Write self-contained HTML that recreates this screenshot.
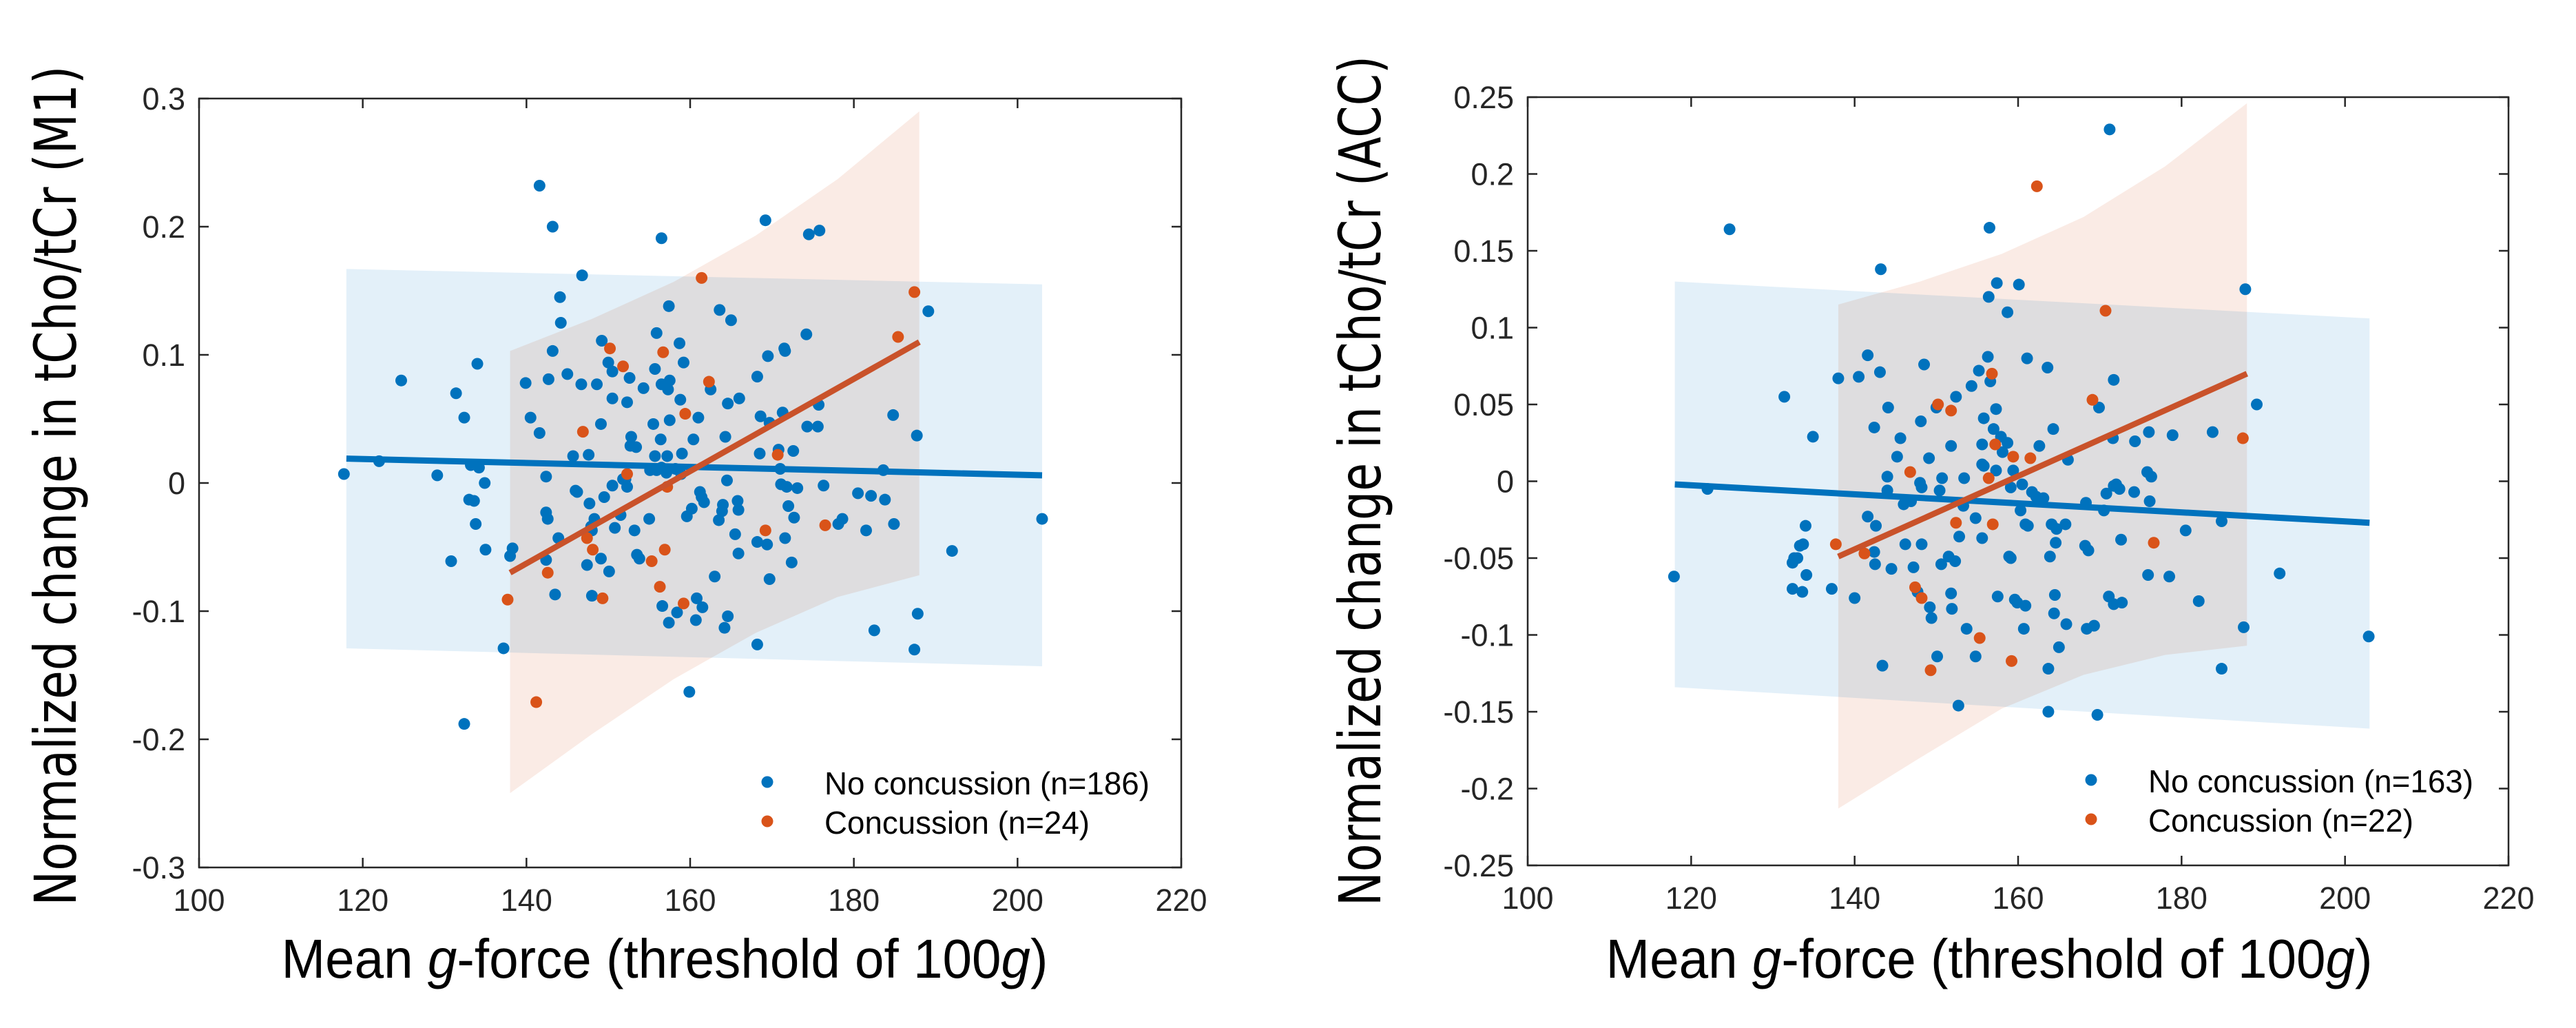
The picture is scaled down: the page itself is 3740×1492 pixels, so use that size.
<!DOCTYPE html>
<html><head><meta charset="utf-8"><style>
html,body{margin:0;padding:0;background:#fff;width:3740px;height:1492px;overflow:hidden}
svg{display:block}
</style></head><body>
<svg id="fig" xmlns="http://www.w3.org/2000/svg" width="3740" height="1492" viewBox="0 0 3740 1492"></svg>
<script>
// ===== Left panel data (M1) =====
const m1BlueX=[117.7,122,124.7,129.1,131.4,132.4,134,133.2,134.2,133,133.6,133.8,134.9,130.8,135,132.4,137.2,138,138.3,139.9,140.5,141.6,141.6,143.2,143.2,142.7,144.1,144.2,142.4,142.4,142.6,142.4,143.5,143.9,145,145.7,146,146.2,146.8,146.7,147.6,147.7,148,147.9,148.3,147.4,148,148.6,149.1,149.2,149.5,150.1,149.1,150,150.5,150.5,150.5,150.8,151.5,151.8,152.1,152.3,152.6,152.8,152.7,153.4,153.2,153.5,153.8,152.3,154.3,155.1,155,155.5,155.7,155.9,155.7,155.9,156.4,156.5,156.5,156.5,156.6,157.1,157.3,157.4,157.5,157.5,157.2,157.4,158.2,158.4,158.8,158.7,159,158.9,159.2,159.6,160.2,160.4,161,160.8,160.7,159.9,161.2,161.4,161.5,161.7,162.5,163,163.5,163.6,164,163.9,164.3,164.5,164.2,164.6,164.6,165,165.5,165.8,165.9,166,165.9,168.2,168.2,168.5,168.6,168.2,169.2,169.5,169.4,169.7,169.7,170.8,171,171.1,171.3,171.5,171.6,171.8,172,171.6,172.4,172.6,172.7,173.1,174.2,174.3,174.5,175.8,175.7,175.6,176.3,178.1,178.6,180.5,181.5,182.1,182.5,183.6,183.8,184.8,184.9,187.4,187.7,187.8,189.1,192,203];
const m1BlueY=[0.007,0.017,0.08,0.006,0.07,0.051,0.093,0.014,0.012,-0.013,-0.014,-0.032,0,-0.061,-0.052,-0.188,-0.129,-0.057,-0.051,0.078,0.051,0.232,0.039,0.2,0.103,0.081,0.145,0.125,0.005,-0.023,-0.028,-0.06,-0.087,-0.043,0.085,0.021,-0.006,-0.007,0.162,0.077,0.022,-0.016,-0.037,-0.034,-0.028,-0.064,-0.088,0.077,0.046,0.111,-0.011,-0.069,-0.059,0.094,0.087,0.066,-0.002,-0.035,-0.025,0.003,0.003,0.063,0.082,0.036,0.029,0.028,-0.037,-0.056,-0.059,-0.003,0.074,0.01,-0.028,0.046,0.089,0.117,0.021,0.01,0.034,0.077,0.191,0.012,-0.096,0.008,0.073,0.138,0.08,0.049,0.021,-0.109,0.011,-0.101,0.065,0.109,0.023,0.007,0.094,-0.026,-0.02,0.034,0.051,-0.09,-0.107,-0.163,-0.007,-0.011,-0.097,-0.015,0.073,-0.073,-0.029,0.135,-0.017,-0.022,0.036,0.002,-0.113,-0.104,0.062,0.127,-0.04,-0.014,-0.021,0.066,-0.055,-0.046,0.083,0.023,0.052,-0.126,0.205,0.099,-0.048,-0.075,0.047,0.026,0.011,-0.001,0.055,0.105,0.103,-0.003,-0.018,-0.043,-0.062,0.025,-0.027,-0.004,0.116,0.044,0.194,0.197,0.061,0.044,-0.002,-0.032,-0.028,-0.008,-0.037,-0.01,-0.115,0.01,-0.013,0.053,-0.032,-0.13,0.037,-0.102,0.134,-0.053,-0.028];
const m1OrangeX=[137.7,141.2,142.6,146.9,147.4,148.1,149.3,150.2,151.8,152.3,155.3,156.3,156.7,156.9,157.2,159.2,159.4,161.4,162.3,169.2,170.7,176.5,185.4,187.4];
const m1OrangeY=[-0.091,-0.171,-0.07,0.04,-0.043,-0.052,-0.09,0.105,0.091,0.007,-0.061,-0.081,0.102,-0.052,-0.003,-0.094,0.054,0.16,0.079,-0.037,0.022,-0.033,0.114,0.149];
const m1BlueFitX=[118,203], m1BlueFitY=[0.019,0.006];
const m1OrangeFitX=[138,188], m1OrangeFitY=[-0.07,0.11];
const m1BlueBandX=[118,203], m1BlueBandUp=[0.167,0.155], m1BlueBandLo=[-0.129,-0.143];
const m1OrangeBandX=[138,148,158,168,178,188];
const m1OrangeBandUp=[0.103,0.128,0.157,0.193,0.237,0.29];
const m1OrangeBandLo=[-0.242,-0.196,-0.153,-0.117,-0.089,-0.072];
const m1YTicks=[-0.3,-0.2,-0.1,0,0.1,0.2,0.3];
const m1YLabels=["-0.3","-0.2","-0.1","0","0.1","0.2","0.3"];

// ===== Right panel data (ACC) =====
const accBlueX=[117.9,122,124.7,131.4,132.4,132.6,133,133.3,133.7,132.4,133.6,134.1,134,134.9,137.2,138,140,140.5,141.6,141.6,142.4,142.6,142.4,142.5,143.1,143.2,143.4,144.1,144,144,144.5,145.2,145.6,146,146.2,146.9,147.2,147.7,148,148.2,148.2,148.1,148.5,149.1,149.2,149.4,150,150.7,150.4,150.6,150.1,151.8,151.5,151.8,151.9,152.3,152.4,152.8,153.3,153.4,152.7,153.7,154.3,154.8,155.2,155.6,155.6,155.8,155.8,155.6,156.3,156.4,156.6,156.5,157,157.3,157.3,157.4,157.5,154.8,157.9,158.1,158.7,158.9,159.1,159.4,158.7,159.1,159.6,159.9,160.1,160.3,160.5,160.7,160.9,160.9,161.2,161.7,162.2,161.1,162.6,163.1,163.6,163.7,163.7,163.9,164.1,164.3,164.4,164.5,164.6,164.7,165,165.8,165.9,166.1,168.2,168.3,168.4,168.6,169.3,169.7,169.9,170.5,170.8,171.2,171.1,171.6,171.7,171.7,171.7,172,172.4,172.7,172.6,174.3,174.2,175.8,176.1,176.3,176,175.9,178.5,178.9,180.5,182.1,183.8,184.9,184.9,187.6,187.8,189.2,192,202.9];
const accBlueY=[-0.062,-0.005,0.164,0.055,-0.053,-0.05,-0.05,-0.042,-0.041,-0.07,-0.072,-0.061,-0.029,0.029,-0.07,0.067,-0.076,0.068,0.082,-0.023,0.035,-0.029,-0.046,-0.054,0.071,0.138,-0.12,0.048,0.003,-0.006,-0.057,0.016,0.028,-0.015,-0.041,-0.013,-0.056,-0.072,-0.001,-0.004,-0.041,0.039,0.076,0.015,-0.082,-0.089,0.048,0.002,-0.006,-0.054,-0.114,0.023,-0.049,-0.073,-0.083,-0.052,0.055,-0.036,-0.016,0.002,-0.146,-0.096,0.062,-0.024,0.072,0.024,0.011,0.01,0.041,-0.037,0.081,0.12,0.065,0.165,0.034,0.047,0.007,0.129,-0.075,-0.114,0.029,0.019,0.025,-0.049,-0.004,0.007,0.11,-0.05,-0.077,-0.079,0.128,-0.019,-0.002,-0.096,-0.081,-0.028,-0.029,-0.007,-0.01,0.08,0.023,-0.011,0.074,-0.122,-0.15,-0.049,-0.028,0.034,-0.086,-0.074,-0.04,-0.031,-0.108,-0.028,-0.093,0.014,-0.042,-0.014,-0.096,-0.045,-0.094,-0.152,0.048,-0.019,-0.008,0.229,-0.075,0.028,-0.003,0.066,-0.08,-0.002,-0.005,-0.079,-0.038,0.026,-0.007,0.006,-0.013,0.003,0.032,-0.061,-0.062,0.03,-0.032,-0.078,0.032,-0.026,-0.122,-0.095,0.125,0.05,-0.06,-0.101];
const accOrangeX=[137.7,141.2,146.8,147.4,148.2,149.3,150.2,151.8,152.4,155.3,156.4,156.8,156.9,157.2,159.2,159.4,161.5,162.3,169.1,170.7,176.6,187.5];
const accOrangeY=[-0.041,-0.047,0.006,-0.069,-0.076,-0.123,0.05,0.046,-0.027,-0.102,0.002,0.07,-0.028,0.024,-0.117,0.016,0.015,0.192,0.053,0.111,-0.04,0.028];
const accBlueFitX=[118,203], accBlueFitY=[-0.002,-0.027];
const accOrangeFitX=[138,188], accOrangeFitY=[-0.049,0.07];
const accBlueBandX=[118,203], accBlueBandUp=[0.13,0.106], accBlueBandLo=[-0.134,-0.161];
const accOrangeBandX=[138,148,158,168,178,188];
const accOrangeBandUp=[0.115,0.13,0.148,0.172,0.205,0.246];
const accOrangeBandLo=[-0.213,-0.18,-0.148,-0.126,-0.113,-0.107];
const accYTicks=[-0.25,-0.2,-0.15,-0.1,-0.05,0,0.05,0.1,0.15,0.2,0.25];
const accYLabels=["-0.25","-0.2","-0.15","-0.1","-0.05","0","0.05","0.1","0.15","0.2","0.25"];

const xTicks=[100,120,140,160,180,200,220];
const xLabels=["100","120","140","160","180","200","220"];

const NS="http://www.w3.org/2000/svg";
const svg=document.getElementById('fig');
function mk(tag,attrs,parent){const e=document.createElementNS(NS,tag);for(const k in attrs)e.setAttribute(k,attrs[k]);(parent||svg).appendChild(e);return e;}
const BLUE="#0072bd", ORANGE="#d95319", AX="#262626";

function panel(o){
  const g=mk('g',{});
  
  
  const X=v=>o.x0+(v-100)/120*(o.x1-o.x0);
  const Y=v=>o.y1-(v-o.ymin)/(o.ymax-o.ymin)*(o.y1-o.y0);
  let d=`M${X(o.bbX[0])},${Y(o.bbUp[0])} L${X(o.bbX[1])},${Y(o.bbUp[1])} L${X(o.bbX[1])},${Y(o.bbLo[1])} L${X(o.bbX[0])},${Y(o.bbLo[0])} Z`;
  const bb=mk('path',{d:d,fill:'#e3f0f9'},g);
  
  
  let pts=[];
  for(let i=0;i<o.obX.length;i++)pts.push(`${X(o.obX[i])},${Y(o.obUp[i])}`);
  for(let i=o.obX.length-1;i>=0;i--)pts.push(`${X(o.obX[i])},${Y(o.obLo[i])}`);
  const ob=mk('polygon',{points:pts.join(' '),fill:'#faebe5',style:'mix-blend-mode:multiply'},g);
  
  
  const box=mk('rect',{x:o.x0,y:o.y0,width:o.x1-o.x0,height:o.y1-o.y0,fill:'none',stroke:AX,'stroke-width':2.5},g);
  
  
  xTicks.forEach((t,i)=>{
    const x=X(t);
    mk('line',{x1:x,y1:o.y1,x2:x,y2:o.y1-14,stroke:AX,'stroke-width':2.5},g);
    mk('line',{x1:x,y1:o.y0,x2:x,y2:o.y0+14,stroke:AX,'stroke-width':2.5},g);
    const tx=mk('text',{x:x,y:o.y1+63,'text-anchor':'middle','font-family':'Liberation Sans, sans-serif','font-size':45,fill:AX},g);
    tx.textContent=xLabels[i];
    
    
  });
  o.yt.forEach((t,i)=>{
    const y=Y(t);
    mk('line',{x1:o.x0,y1:y,x2:o.x0+14,y2:y,stroke:AX,'stroke-width':2.5},g);
    mk('line',{x1:o.x1,y1:y,x2:o.x1-14,y2:y,stroke:AX,'stroke-width':2.5},g);
    const ty=mk('text',{x:o.x0-20,y:y+16,'text-anchor':'end','font-family':'Liberation Sans, sans-serif','font-size':45,fill:AX},g);
    ty.textContent=o.yl[i];
    
    
  });
  for(let i=0;i<o.bx.length;i++){
    const c=mk('circle',{cx:X(o.bx[i]),cy:Y(o.by[i]),r:8.5,fill:BLUE},g);
    
    
  }
  for(let i=0;i<o.ox.length;i++){
    const c=mk('circle',{cx:X(o.ox[i]),cy:Y(o.oy[i]),r:8.5,fill:ORANGE},g);
    
    
  }
  const bl=mk('line',{x1:X(o.bfX[0]),y1:Y(o.bfY[0]),x2:X(o.bfX[1]),y2:Y(o.bfY[1]),stroke:BLUE,'stroke-width':9},g);
  
  
  const ol=mk('line',{x1:X(o.ofX[0]),y1:Y(o.ofY[0]),x2:X(o.ofX[1]),y2:Y(o.ofY[1]),stroke:'#c9522a','stroke-width':8.5},g);
  
  
  const lg=mk('g',{},g);
  
  
  const l1=mk('circle',{cx:o.lx,cy:o.ly,r:8.5,fill:BLUE},lg);
  
  
  const l2=mk('circle',{cx:o.lx,cy:o.ly+57,r:8.5,fill:ORANGE},lg);
  
  
  const t1=mk('text',{x:o.lx+83,y:o.ly+18,'font-family':'Liberation Sans, sans-serif','font-size':46,fill:'#000',textLength:o.lw1,lengthAdjust:'spacingAndGlyphs'},lg);
  t1.textContent=o.lt1;
  
  
  const t2=mk('text',{x:o.lx+83,y:o.ly+75,'font-family':'Liberation Sans, sans-serif','font-size':46,fill:'#000',textLength:o.lw2,lengthAdjust:'spacingAndGlyphs'},lg);
  t2.textContent=o.lt2;
  
  
  const yt=mk('text',{x:0,y:0,transform:`translate(${o.ytx},${o.yty}) rotate(-90)`,'text-anchor':'middle','font-family':'DejaVu Sans, Liberation Sans, sans-serif','font-size':84,fill:'#000',textLength:o.ytl,lengthAdjust:'spacingAndGlyphs'},g);
  yt.textContent=o.ytitle;
  
  
  const xt=mk('text',{x:o.xtx,y:1419,'text-anchor':'middle','font-family':'Liberation Sans, sans-serif','font-size':80,fill:'#000',textLength:1113,lengthAdjust:'spacingAndGlyphs'},g);
  xt.innerHTML='Mean <tspan font-style="italic">g</tspan>-force (threshold of 100<tspan font-style="italic">g</tspan>)';
  
  
}

panel({name:'m1-panel',x0:289,x1:1715,y0:143,y1:1259,ymin:-0.3,ymax:0.3,yt:m1YTicks,yl:m1YLabels,
  bx:m1BlueX,by:m1BlueY,ox:m1OrangeX,oy:m1OrangeY,bfX:m1BlueFitX,bfY:m1BlueFitY,ofX:m1OrangeFitX,ofY:m1OrangeFitY,
  bbX:m1BlueBandX,bbUp:m1BlueBandUp,bbLo:m1BlueBandLo,obX:m1OrangeBandX,obUp:m1OrangeBandUp,obLo:m1OrangeBandLo,
  lx:1114,ly:1135,lt1:'No concussion (n=186)',lt2:'Concussion (n=24)',lw1:472,lw2:385,
  ytx:110,yty:705,ytl:1219,ytitle:'Normalized change in tCho/tCr (M1)',xtx:965});
panel({name:'acc-panel',x0:2218,x1:3642,y0:141,y1:1256,ymin:-0.25,ymax:0.25,yt:accYTicks,yl:accYLabels,
  bx:accBlueX,by:accBlueY,ox:accOrangeX,oy:accOrangeY,bfX:accBlueFitX,bfY:accBlueFitY,ofX:accOrangeFitX,ofY:accOrangeFitY,
  bbX:accBlueBandX,bbUp:accBlueBandUp,bbLo:accBlueBandLo,obX:accOrangeBandX,obUp:accOrangeBandUp,obLo:accOrangeBandLo,
  lx:3036,ly:1132,lt1:'No concussion (n=163)',lt2:'Concussion (n=22)',lw1:472,lw2:385,
  ytx:2004,yty:698,ytl:1234,ytitle:'Normalized change in tCho/tCr (ACC)',xtx:2888});
</script>
</body></html>
